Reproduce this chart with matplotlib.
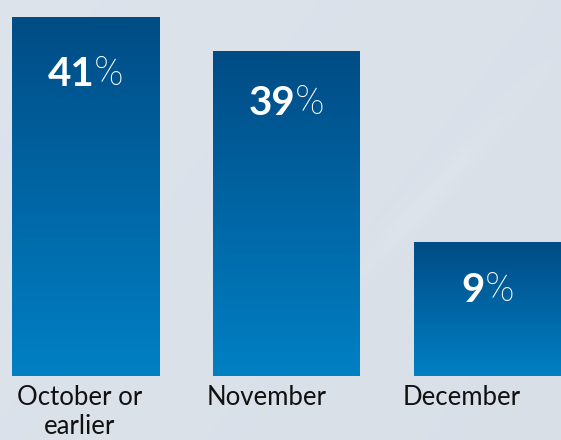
import matplotlib
matplotlib.use("Agg")
import matplotlib.pyplot as plt
import numpy as np
from matplotlib.colors import LinearSegmentedColormap
import matplotlib.transforms as mtransforms

categories = ["October or\nearlier", "November", "December"]
values = [41, 39, 9]
# drawn bar heights as they appear in the graphic (not to scale with the values)
bar_heights = [41.0, 37.1, 15.3]

W, H = 561, 440
fig = plt.figure(figsize=(W / 100, H / 100), dpi=100)

# background
bg = fig.add_axes([0, 0, 1, 1], zorder=0)
bg.set_axis_off()
yy, xx = np.mgrid[0:1:300j, 0:1:300j]
base = np.array([0.862, 0.886, 0.918])
shade = base[None, None, :] - 0.010 * xx[..., None] + 0.006 * (1 - yy[..., None])
streak = np.exp(-((xx + 0.7 * yy - 1.08) ** 2) / 0.0006)
streak *= np.exp(-((yy - 0.45) ** 2) / 0.04)
shade = shade + 0.012 * streak[..., None]
bg.imshow(np.clip(shade, 0, 1), extent=[0, 1, 0, 1], aspect="auto", origin="upper")
bg.set_xlim(0, 1)
bg.set_ylim(0, 1)

base_px = 376
ax = fig.add_axes([0, (H - base_px) / H, 1, base_px / H], zorder=1)
ax.set_axis_off()
ax.patch.set_alpha(0)
unit = 201.0
c0 = 85.5
xlim = (-c0 / unit, (W - c0) / unit)
ylim = (0, base_px / 359.0 * 41)

cmap = LinearSegmentedColormap.from_list("b", ["#0080c4", "#004c85"])
grad = np.linspace(0, 1, 256)[:, None]
width = 147 / unit
x = np.arange(len(categories))
bars = ax.bar(x, bar_heights, width=width, color="none", edgecolor="none")
for b in bars:
    x0, y0 = b.get_x(), b.get_y()
    w, h = b.get_width(), b.get_height()
    im = ax.imshow(grad, cmap=cmap, extent=[x0, x0 + w, y0, y0 + h],
                   aspect="auto", origin="lower", zorder=2)
    im.set_clip_path(b)
ax.set_xlim(*xlim)
ax.set_ylim(*ylim)

# value labels: bold number + light percent sign
offsets_px = [57, 52, 48]
gap = 0
fig.canvas.draw()
renderer = fig.canvas.get_renderer()
for i, (v, hgt) in enumerate(zip(values, bar_heights)):
    tr_a = mtransforms.offset_copy(ax.transData, fig=fig, x=0, y=-offsets_px[i], units="dots")
    t1 = ax.text(i, hgt, str(v), transform=tr_a, ha="right", va="center",
                 fontsize=29, fontweight="bold", family="Lato", color="white", zorder=3)
    t2 = ax.text(i, hgt, "%", transform=tr_a, ha="left", va="center",
                 fontsize=28.5, fontweight="light", family="Roboto", color="white", zorder=3)
    w1 = t1.get_window_extent(renderer).width
    w2 = t2.get_window_extent(renderer).width
    shift = (w1 - w2 - gap) / 2
    t1.set_transform(mtransforms.offset_copy(ax.transData, fig=fig, x=shift, y=-offsets_px[i], units="dots"))
    t2.set_transform(mtransforms.offset_copy(ax.transData, fig=fig, x=shift + gap, y=-offsets_px[i], units="dots"))

# category labels
label_px = [79.5, 266.5, 462]
for lp, cat in zip(label_px, categories):
    fig.text(lp / W, 1 - 385 / H, cat, ha="center", va="top", fontsize=18.5,
             family="Lato", color="#111111", linespacing=1.2)

fig.savefig("out.png", dpi=100)
